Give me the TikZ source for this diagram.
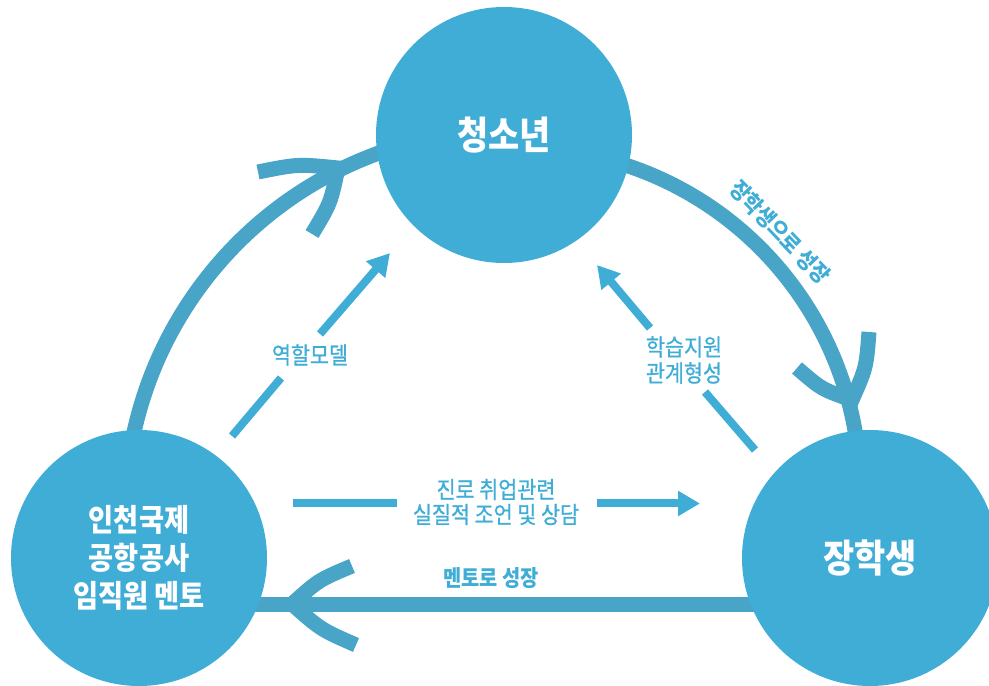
\documentclass[tikz,border=0pt]{standalone}
\usepackage{fontspec}
\setmainfont{Noto Sans CJK KR}[FakeStretch=0.88]
\newfontfamily\krmed{Noto Sans CJK KR}[FakeStretch=0.88,FakeBold=0.8]
\usetikzlibrary{arrows.meta,calc,backgrounds}
\definecolor{cfill}{HTML}{3FADD6}
\definecolor{carc}{HTML}{48A5C7}
\newcommand{\fsz}[2]{\fontsize{#1}{#2}\selectfont}
\newcommand{\barbs}[3]{\draw[barb] (#1) .. controls ($(#1)!0.5!(#2)!6pt!-90:(#2)$) .. (#2) .. controls ($(#2)!0.5!(#3)!6pt!-90:(#3)$) .. (#3);}
\begin{document}
\begin{tikzpicture}[x=1pt,y=1pt,
  hub/.style={circle,fill=cfill,inner sep=0pt,minimum size=256pt,text=white,align=center},
  bigline/.style={draw=carc,line width=15pt},
  barb/.style={draw=carc,line width=15pt,line join=miter},
  midline/.style={draw=cfill,line width=8pt},
  midarrow/.style={midline,-{Triangle[length=22pt,width=24pt]}},
  lbl/.style={text=cfill,align=center,inner sep=0pt,font=\krmed\fsz{23.5}{26}},
  blbl/.style={text=cfill,inner sep=0pt,font=\bfseries\fsz{22.5}{26}}]
\useasboundingbox (0,0) rectangle (989,686);
% circles
\node[hub,font=\bfseries\fsz{38.5}{44}] (T) at (504,551) {청소년};
\node[hub,font=\bfseries\fsz{38.5}{44}] (S) at (870,128) {장학생};
\node[hub,font=\bfseries\fsz{31}{38}] (M) at (139,128) {인천국제\\공항공사\\임직원 멘토};
% labels
\node[lbl] (L1) at (310,331) {역할모델};
\node[lbl] (L2) at (684,326) {학습지원\\관계형성};
\node[lbl,font=\krmed\fsz{23.5}{25}] (L3) at (496,184) {진로 취업관련\\실질적 조언 및 상담};
\node[blbl] (L4) at (491,108) {멘토로 성장};
\node[blbl,rotate=-46] (L5) at (780,454) {장학생으로 성장};
% helper coordinates
\coordinate (CL) at (510,171);
\coordinate (CR) at (519,197);
\coordinate (tl) at (338,518); \coordinate (tl1) at (312,452); \coordinate (tl2) at (258,514);
\coordinate (tr) at (852,286); \coordinate (tr1) at (797,318); \coordinate (tr2) at (869,354);
\coordinate (tb) at (292,82);  \coordinate (tb1) at (352,120); \coordinate (tb2) at (356,41);
\coordinate (a1s) at (232,250); \coordinate (a1e) at (281,308);
\coordinate (a1f) at (320,352); \coordinate (a1t) at (390,433);
\coordinate (a2s) at (755,236); \coordinate (a2e) at (705,294);
\coordinate (a2f) at (650,358); \coordinate (a2t) at (597,421);
\coordinate (a3s) at (293,182.5); \coordinate (a3e) at (397,182.5);
\coordinate (a3f) at (597,182.5); \coordinate (a3t) at (700,182.5);
\begin{scope}[on background layer]
\draw[bigline] ([shift={(168.7:385)}]CL) arc[start angle=168.7,end angle=105,radius=385];
\draw[bigline] ([shift={(76:341)}]CR) arc[start angle=76,end angle=8,radius=341];
\draw[bigline] ([yshift=-46.5pt]S.center) -- ([yshift=-46.5pt]M.center);
\end{scope}
\barbs{tl1}{tl}{tl2}
\barbs{tr1}{tr}{tr2}
\barbs{tb1}{tb}{tb2}
\draw[midline] (a1s) -- (a1e);
\draw[midarrow] (a1f) -- (a1t);
\draw[midline] (a2s) -- (a2e);
\draw[midarrow] (a2f) -- (a2t);
\draw[midline] (a3s) -- (a3e);
\draw[midarrow] (a3f) -- (a3t);
\end{tikzpicture}
\end{document}
